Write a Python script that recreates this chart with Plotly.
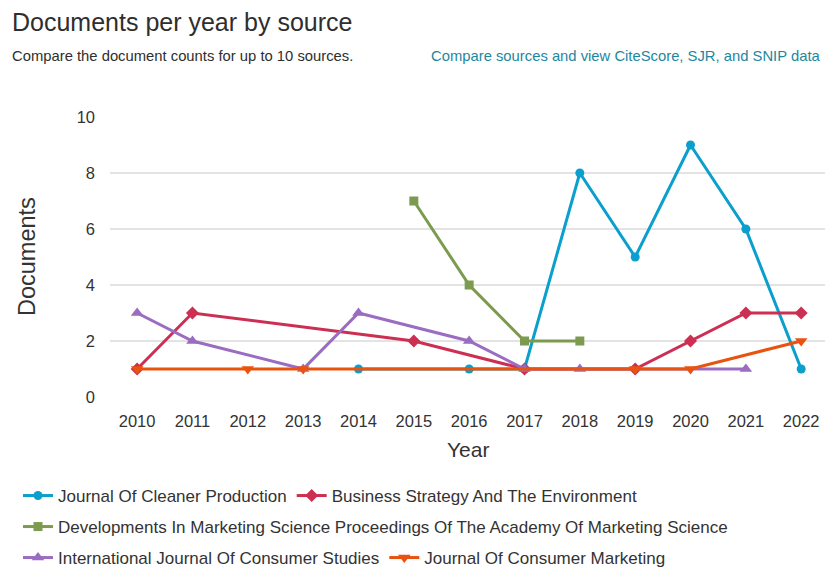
import plotly.graph_objects as go

years = list(range(2010, 2023))

cleaner_production = [None, None, None, None, 1, None, 1, 1, 8, 5, 9, 6, 1]
business_strategy = [1, 3, None, None, None, 2, None, 1, None, 1, 2, 3, 3]
developments_marketing = [None, None, None, None, None, 7, 4, 2, 2, None, None, None, None]
consumer_studies = [3, 2, None, 1, 3, None, 2, 1, 1, None, None, 1, None]
consumer_marketing = [1, None, 1, 1, None, None, None, None, None, 1, 1, None, 2]

series_names = [
    "Journal Of Cleaner Production",
    "Business Strategy And The Environment",
    "Developments In Marketing Science Proceedings Of The Academy Of Marketing Science",
    "International Journal Of Consumer Studies",
    "Journal Of Consumer Marketing",
]
series_values = [cleaner_production, business_strategy, developments_marketing,
                 consumer_studies, consumer_marketing]
colors = ["#0a9fcc", "#cc2f52", "#7d9b4e", "#9a6cc2", "#e8530f"]
symbols = ["circle", "diamond", "square", "triangle-up", "triangle-down"]
marker_sizes = [9, 10, 9, 11, 11]
legend_ids = ["legend", "legend", "legend2", "legend3", "legend3"]

FONT = "Liberation Sans, Arial, sans-serif"

fig = go.Figure()
for name, vals, col, sym, ms, lg in zip(series_names, series_values, colors, symbols,
                                        marker_sizes, legend_ids):
    fig.add_trace(go.Scatter(
        x=years, y=vals, name=name, mode="lines+markers",
        connectgaps=True,
        line=dict(color=col, width=3),
        marker=dict(symbol=sym, size=ms, color=col),
        legend=lg,
    ))

# plot area: x 110..825, y 117..397 in an 827x572 canvas
W, H = 827, 572
L, R, T, B = 110, 2, 117, 175
pw, ph = W - L - R, H - T - B

def px(x):
    return (x - L) / pw

def py(y):
    return (H - B - y) / ph

legend_common = dict(orientation="h", xanchor="left", yanchor="middle",
                     font=dict(family=FONT, size=17, color="#333333"),
                     bgcolor="rgba(0,0,0,0)", borderwidth=0)

fig.update_layout(
    width=W, height=H,
    margin=dict(l=L, r=R, t=T, b=B, autoexpand=False),
    paper_bgcolor="white", plot_bgcolor="white",
    font=dict(family=FONT, color="#333333"),
    legend=dict(x=px(18), y=py(496), **legend_common),
    legend2=dict(x=px(18), y=py(527), **legend_common),
    legend3=dict(x=px(18), y=py(558), **legend_common),
    xaxis=dict(
        range=[2009.51, 2022.43], tickmode="array", tickvals=years,
        ticktext=[str(y) for y in years],
        showgrid=False, zeroline=False, showline=False,
        tickfont=dict(family=FONT, size=16.5, color="#333333"),
        ticks="", ticklabelstandoff=12,
    ),
    yaxis=dict(
        range=[0, 10], tickvals=[0, 2, 4, 6, 8, 10],
        showgrid=True, gridcolor="#e3e3e3", gridwidth=1.5,
        zeroline=False, showline=False,
        tickfont=dict(family=FONT, size=16.5, color="#333333"),
        ticks="", ticklabelstandoff=14,
    ),
    annotations=[
        dict(text="Documents per year by source", xref="paper", yref="paper",
             x=px(10), y=py(22), xanchor="left", yanchor="middle", showarrow=False,
             font=dict(family=FONT, size=25, color="#2e2e2e")),
        dict(text="Compare the document counts for up to 10 sources.", xref="paper", yref="paper",
             x=px(10), y=py(56), xanchor="left", yanchor="middle", showarrow=False,
             font=dict(family=FONT, size=14.8, color="#2e2e2e")),
        dict(text="Compare sources and view CiteScore, SJR, and SNIP data", xref="paper", yref="paper",
             x=px(823), y=py(56), xanchor="right", yanchor="middle", showarrow=False,
             font=dict(family=FONT, size=14.8, color="#1d87a0")),
        dict(text="Documents", xref="paper", yref="paper", textangle=-90,
             x=px(27), y=py(257), xanchor="center", yanchor="middle", showarrow=False,
             font=dict(family=FONT, size=23.5, color="#333333")),
        dict(text="Year", xref="paper", yref="paper",
             x=px(468), y=py(449), xanchor="center", yanchor="middle", showarrow=False,
             font=dict(family=FONT, size=21, color="#333333")),
    ],
)

fig.write_html("out.html")
